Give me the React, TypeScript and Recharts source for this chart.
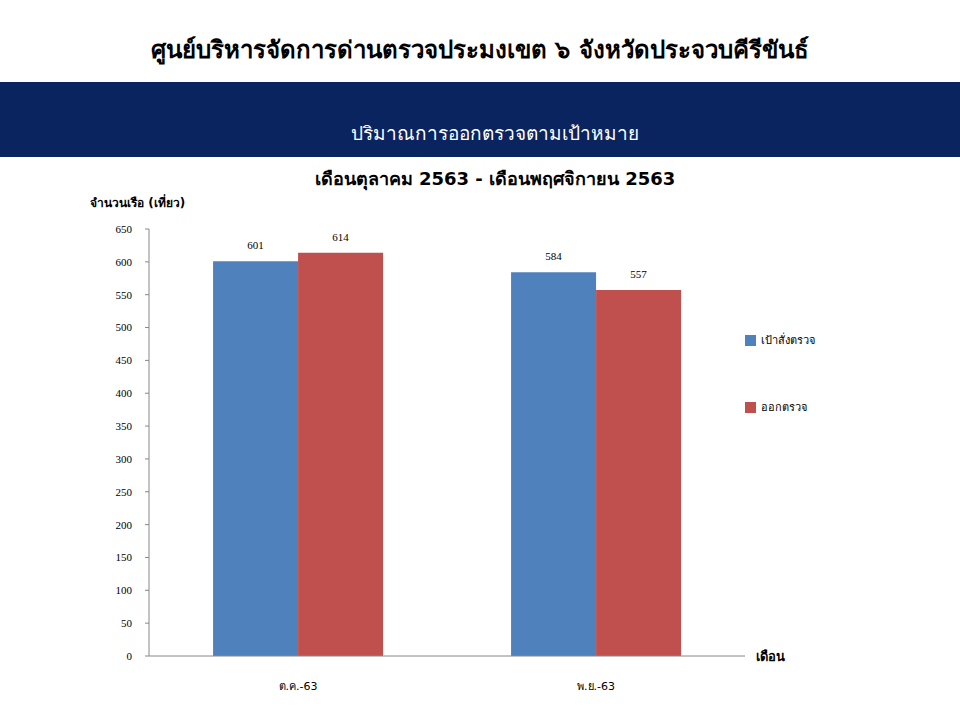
import { Bar, BarChart, LabelList, Label, XAxis, YAxis } from "recharts";

const months = ["ต.ค.-63", "พ.ย.-63"];
const target = [601, 584];
const inspected = [614, 557];
const yTicks = [0, 50, 100, 150, 200, 250, 300, 350, 400, 450, 500, 550, 600, 650];

const data = months.map((m, i) => ({ month: m, target: target[i], inspected: inspected[i] }));

const thaiFont = "Tahoma, 'DejaVu Sans', 'Noto Sans', sans-serif";
const numFont = "'Liberation Serif', 'Times New Roman', serif";

function LegendBox() {
  const items = [
    { name: "เป้าสั่งตรวจ", color: "#4F81BD" },
    { name: "ออกตรวจ", color: "#C0504D" },
  ];
  return (
    <div style={{ position: "absolute", left: 745, top: 332, fontFamily: thaiFont, fontSize: 11, color: "#000" }}>
      {items.map((it, i) => (
        <div key={it.name} style={{ display: "flex", alignItems: "center", marginBottom: i === 0 ? 51 : 0, height: 16 }}>
          <span style={{ width: 11, height: 11, background: it.color, display: "inline-block", marginRight: 5 }} />
          <span>{it.name}</span>
        </div>
      ))}
    </div>
  );
}

export default function App() {
  return (
    <div style={{ position: "absolute", left: 0, top: 0, width: 960, height: 720, background: "#fff", overflow: "hidden" }}>
      <div style={{ position: "absolute", top: 30, left: 0, width: 960, textAlign: "center", fontFamily: thaiFont, fontWeight: "bold", fontSize: 24, color: "#000" }}>
        ศูนย์บริหารจัดการด่านตรวจประมงเขต ๖ จังหวัดประจวบคีรีขันธ์
      </div>
      <div style={{ position: "absolute", top: 82, left: 0, width: 960, height: 75, background: "#0A2460" }} />
      <div style={{ position: "absolute", top: 118, left: 0, width: 990, textAlign: "center", fontFamily: thaiFont, fontSize: 19, color: "#fff" }}>
        ปริมาณการออกตรวจตามเป้าหมาย
      </div>
      <div style={{ position: "absolute", top: 164, left: 0, width: 990, textAlign: "center", fontFamily: thaiFont, fontWeight: "bold", fontSize: 18, color: "#000" }}>
        เดือนตุลาคม 2563 - เดือนพฤศจิกายน 2563
      </div>
      <div style={{ position: "absolute", top: 0, left: 0 }}>
        <BarChart
          width={960}
          height={720}
          data={data}
          margin={{ top: 229, right: 215, bottom: 34, left: 109 }}
          barCategoryGap="21.5%"
          barGap={0}
        >
          <XAxis
            dataKey="month"
            height={30}
            tickLine={false}
            axisLine={{ stroke: "#888" }}
            tick={{ fontFamily: thaiFont, fontSize: 11, fill: "#000" }}
            tickMargin={20}
          >
            <Label
              content={(props: any) => {
                const vb = props.viewBox;
                return (
                  <text x={vb.x + vb.width + 11} y={vb.y} dy="0.35em" fontFamily={thaiFont} fontSize={13} fontWeight="bold" fill="#000">
                    เดือน
                  </text>
                );
              }}
            />
          </XAxis>
          <YAxis
            width={40}
            domain={[0, 650]}
            ticks={yTicks}
            interval={0}
            tickSize={4}
            tickMargin={13}
            axisLine={{ stroke: "#888" }}
            tickLine={{ stroke: "#888" }}
            tick={{ fontFamily: numFont, fontSize: 11, fill: "#000" }}
          >
            <Label
              content={() => (
                <text x={90} y={203} dy="0.35em" fontFamily={thaiFont} fontSize={12} fontWeight="bold" fill="#000">
                  จำนวนเรือ (เที่ยว)
                </text>
              )}
            />
          </YAxis>
          <Bar dataKey="target" name="เป้าสั่งตรวจ" fill="#4F81BD" isAnimationActive={false}>
            <LabelList dataKey="target" position="top" offset={12} style={{ fontFamily: numFont, fontSize: 11, fill: "#000" }} />
          </Bar>
          <Bar dataKey="inspected" name="ออกตรวจ" fill="#C0504D" isAnimationActive={false}>
            <LabelList dataKey="inspected" position="top" offset={12} style={{ fontFamily: numFont, fontSize: 11, fill: "#000" }} />
          </Bar>
        </BarChart>
      </div>
      <LegendBox />
    </div>
  );
}
